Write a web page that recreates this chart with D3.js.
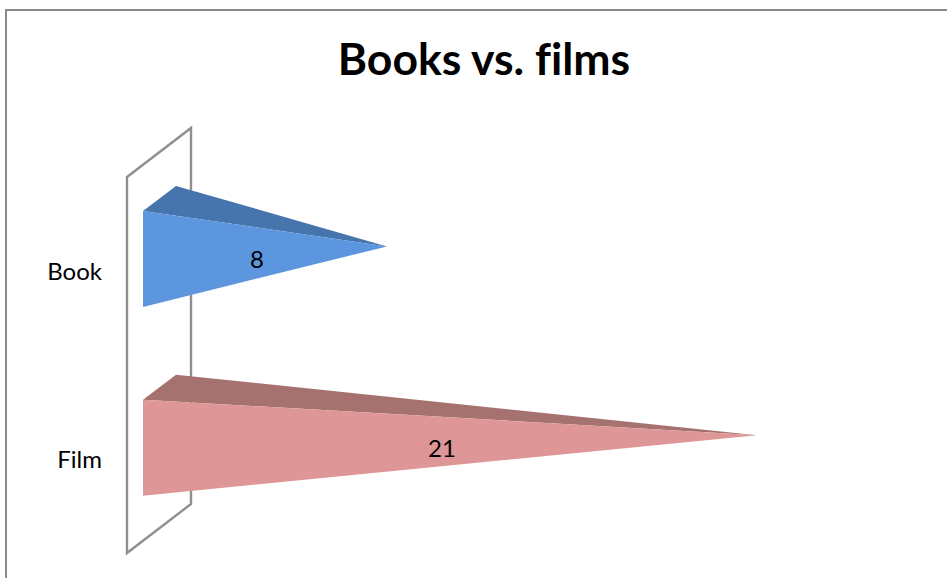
<!DOCTYPE html>
<html>
<head>
<meta charset="utf-8">
<script src="https://cdn.jsdelivr.net/npm/d3@7/dist/d3.min.js"></script>
<style>html,body{margin:0;padding:0;background:#fff}svg{display:block}text{font-variant-ligatures:none}</style>
</head>
<body>
<script>
const titleText = "Books vs. films";
const categories = ["Book", "Film"];
const values = [8, 21];
const frontColors = ["#5B96DF", "#DE9796"];
const topColors = ["#4674AD", "#A67270"];

const W = 947, H = 578;
const font = "Lato, Carlito, sans-serif";
const svg = d3.select("body").append("svg").attr("width", W).attr("height", H);

// Chart frame: clipped by the picture on the right and at the bottom
svg.append("path")
  .attr("d", `M6,${H}V10H${W}`)
  .attr("fill", "none").attr("stroke", "#8a8a8a").attr("stroke-width", 2);

svg.append("text").text(titleText)
  .attr("x", 484).attr("y", 75).attr("text-anchor", "middle")
  .attr("font-family", font).attr("font-weight", 700).attr("font-size", 44.5).attr("fill", "#000");

// Scales (value axis foreshortened by the 3D perspective)
const yWall = d3.scaleBand().domain(categories).range([177, 553]);
const y = d3.scaleBand().domain(categories).range([177, 554.5]);
const x = d3.scaleLinear().domain([0, 8, 21]).range([143, 387, 757]);

const wallX = 127, depthX = 64, depthY = -49;
const baseInsetY = -12.5, baseHalf = 48, backX = 33, backY = -25, tipY = -12.5;
const cy = c => y(c) + y.bandwidth() / 2;

// Back wall
svg.append("path")
  .attr("d", d3.line()([
    [wallX, yWall.range()[0]], [wallX + depthX, yWall.range()[0] + depthY],
    [wallX + depthX, yWall.range()[1] + depthY], [wallX, yWall.range()[1]]
  ]) + "Z")
  .attr("fill", "none").attr("stroke", "#8f8f8f").attr("stroke-width", 2.4);

// Category labels
const axis = svg.append("g").attr("transform", "translate(102,1)")
  .call(d3.axisLeft(yWall).tickSize(0).tickPadding(0));
axis.select(".domain").remove();
axis.selectAll("text").attr("font-family", font).attr("font-size", 24).attr("fill", "#000");

// Pyramids
const bars = svg.selectAll("g.bar").data(categories).join("g").attr("class", "bar");
bars.append("path")
  .attr("fill", (d, i) => topColors[i])
  .attr("d", (d, i) => {
    const c = cy(d) + baseInsetY, x0 = x(0);
    return d3.line()([[x0, c - baseHalf], [x0 + backX, c - baseHalf + backY],
      [x(values[i]), c + tipY]]) + "Z";
  });
bars.append("path")
  .attr("fill", (d, i) => frontColors[i])
  .attr("d", (d, i) => {
    const c = cy(d) + baseInsetY, x0 = x(0);
    return d3.line()([[x0, c - baseHalf], [x(values[i]), c + tipY],
      [x0, c + baseHalf]]) + "Z";
  });
bars.append("text")
  .text((d, i) => values[i])
  .attr("x", (d, i) => (x(0) + x(values[i])) / 2 - 8)
  .attr("y", d => cy(d) + baseInsetY + 9.5)
  .attr("text-anchor", "middle")
  .attr("font-family", font).attr("font-size", 24).attr("fill", "#000");
</script>
</body>
</html>
